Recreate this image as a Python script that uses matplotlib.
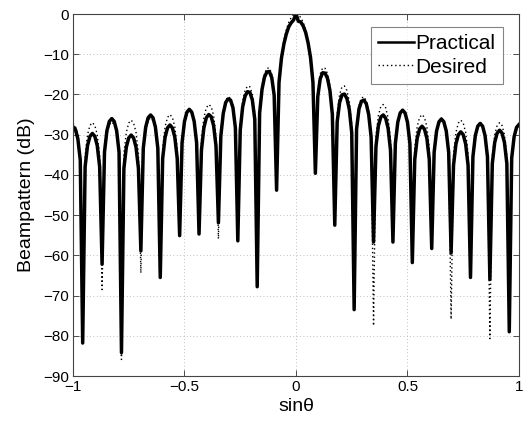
import numpy as np
import matplotlib
matplotlib.use("Agg")
import matplotlib.pyplot as plt

plt.rcParams['font.family'] = ['Liberation Sans', 'DejaVu Sans']

# sin(theta) sampling grid: 185 evenly spaced samples on [-1, 1]
sin_theta = np.linspace(-1.0, 1.0, 185)

# Beampattern (dB), left to right
practical_db = [
    -28.0, -28.7, -31.0, -36.3, -81.8,
    -38.0, -32.7, -30.4, -29.7, -30.4, -32.7, -38.0, -62.2,
    -34.3, -29.0, -26.7, -26.0, -26.7, -29.0, -34.3, -84.2,
    -38.4, -33.1, -30.8, -30.1, -30.8, -33.1, -38.4, -58.9,
    -33.4, -28.1, -25.8, -25.1, -25.8, -28.1, -33.4, -65.5,
    -35.9, -30.6, -28.3, -27.6, -28.3, -30.6, -35.9, -55.1,
    -32.0, -26.7, -24.4, -23.7, -24.4, -26.7, -32.0, -54.7,
    -33.8, -28.3, -25.8, -25.0, -25.5, -27.7, -32.8, -51.9,
    -30.3, -24.7, -22.0, -21.1, -21.4, -23.3, -28.3, -56.4,
    -28.9, -23.1, -20.4, -19.3, -19.5, -21.4, -26.2, -67.8,
    -24.6, -18.7, -15.7, -14.4, -14.3, -15.8, -20.2, -43.8,
    -17.0, -11.0, -7.5, -5.0, -3.2, -2.2, -1.5,
    0.0,
    -1.8, -2.0, -3.0, -4.6, -7.2, -10.8, -17.0,
    -39.6, -20.5, -16.1, -14.6, -14.7, -16.0, -19.0, -24.9,
    -52.5, -26.8, -22.0, -20.1, -19.9, -21.0, -23.7, -29.5,
    -73.5, -28.6, -23.6, -21.7, -21.4, -22.3, -25.0, -30.6,
    -56.7, -32.9, -27.8, -25.6, -25.1, -25.9, -28.4, -33.9,
    -56.7, -32.2, -26.9, -24.6, -23.9, -24.6, -26.9, -32.2,
    -61.8, -36.2, -30.9, -28.6, -27.9, -28.6, -30.9, -36.2,
    -58.3, -34.4, -29.1, -26.8, -26.1, -26.8, -29.1, -34.4,
    -59.4, -37.6, -32.3, -30.0, -29.3, -30.0, -32.3, -37.6,
    -65.5, -35.5, -30.2, -27.9, -27.2, -27.9, -30.2, -35.5,
    -66.0, -37.2, -31.9, -29.6, -28.9, -29.6, -31.9, -37.2,
    -79.0, -35.8, -30.5, -28.2, -27.5,
]

desired_db = [
    -27.2, -27.9, -30.2, -35.5, -80.0,
    -35.3, -30.0, -27.7, -27.0, -27.7, -30.0, -35.3, -68.5,
    -35.1, -29.8, -27.5, -26.8, -27.5, -29.8, -35.1, -85.9,
    -34.7, -29.4, -27.1, -26.4, -27.1, -29.4, -34.7, -64.4,
    -34.1, -28.8, -26.5, -25.8, -26.5, -28.8, -34.1, -62.0,
    -33.3, -28.0, -25.7, -25.0, -25.7, -28.0, -33.3, -53.0,
    -32.2, -26.9, -24.6, -23.9, -24.6, -26.9, -32.2, -53.0,
    -31.3, -25.8, -23.3, -22.5, -23.0, -25.2, -30.3, -55.9,
    -29.8, -24.2, -21.5, -20.6, -20.9, -22.8, -27.8, -54.0,
    -27.5, -21.7, -19.0, -17.9, -18.1, -20.0, -24.8, -60.0,
    -23.7, -17.8, -14.8, -13.5, -13.4, -14.9, -19.3, -40.0,
    -17.1, -10.45, -6.55, -3.92, -2.11, -0.91, -0.22,
    0.0,
    -0.22, -0.91, -2.11, -3.92, -6.55, -10.45, -17.1,
    -38.0, -19.3, -14.9, -13.4, -13.5, -14.8, -17.8, -23.7,
    -50.0, -24.8, -20.0, -18.1, -17.9, -19.0, -21.7, -27.5,
    -60.0, -27.8, -22.8, -20.9, -20.6, -21.5, -24.2, -29.8,
    -77.5, -30.3, -25.2, -23.0, -22.5, -23.3, -25.8, -31.3,
    -55.0, -32.2, -26.9, -24.6, -23.9, -24.6, -26.9, -32.2,
    -58.0, -33.3, -28.0, -25.7, -25.0, -25.7, -28.0, -33.3,
    -57.0, -34.2, -28.9, -26.6, -25.9, -26.6, -28.9, -34.2,
    -75.9, -34.7, -29.4, -27.1, -26.4, -27.1, -29.4, -34.7,
    -62.0, -35.2, -29.9, -27.6, -26.9, -27.6, -29.9, -35.2,
    -80.7, -35.3, -30.0, -27.7, -27.0, -27.7, -30.0, -35.3,
    -77.0, -35.5, -30.2, -27.9, -27.2,
]

x_ticks = [-1, -0.5, 0, 0.5, 1]
x_tick_labels = ['\u22121', '\u22120.5', '0', '0.5', '1']
y_ticks = list(range(-90, 1, 10))
y_tick_labels = ['\u221290', '\u221280', '\u221270', '\u221260', '\u221250',
                 '\u221240', '\u221230', '\u221220', '\u221210', '0']

fig = plt.figure(figsize=(5.24, 4.22), dpi=100)
ax = fig.add_axes([0.1393, 0.109, 0.8511, 0.8578])

ax.plot(sin_theta, practical_db, color='black', lw=2.5, label='Practical')
ax.plot(sin_theta, desired_db, color='black', lw=1.0, linestyle=(0, (1, 2)),
        label='Desired')

ax.set_xlim(-1, 1)
ax.set_ylim(-90, 0)
ax.set_xticks(x_ticks)
ax.set_xticklabels(x_tick_labels)
ax.set_yticks(y_ticks)
ax.set_yticklabels(y_tick_labels)
ax.tick_params(direction='in', top=True, right=True, labelsize=11,
               length=4, width=0.6, colors='#333333', labelcolor='black', pad=3)
ax.grid(True, linestyle=(0, (1, 3)), color='#aaaaaa', lw=0.6)
for s in ax.spines.values():
    s.set_color('#444444')
    s.set_linewidth(0.8)

ax.set_xlabel('sin\u03b8', fontsize=14, labelpad=3)
ax.set_ylabel('Beampattern (dB)', fontsize=14, labelpad=6)

leg = ax.legend(loc='upper right', bbox_to_anchor=(0.964, 0.964), fontsize=15,
                frameon=True, fancybox=False, handlelength=1.7,
                handletextpad=0.1, borderpad=0.35, labelspacing=0.2,
                borderaxespad=0.0)
leg.get_frame().set_edgecolor('#666666')
leg.get_frame().set_linewidth(0.8)
leg.get_lines()[0].set_linewidth(1.8)

fig.savefig('out.png', dpi=100)
